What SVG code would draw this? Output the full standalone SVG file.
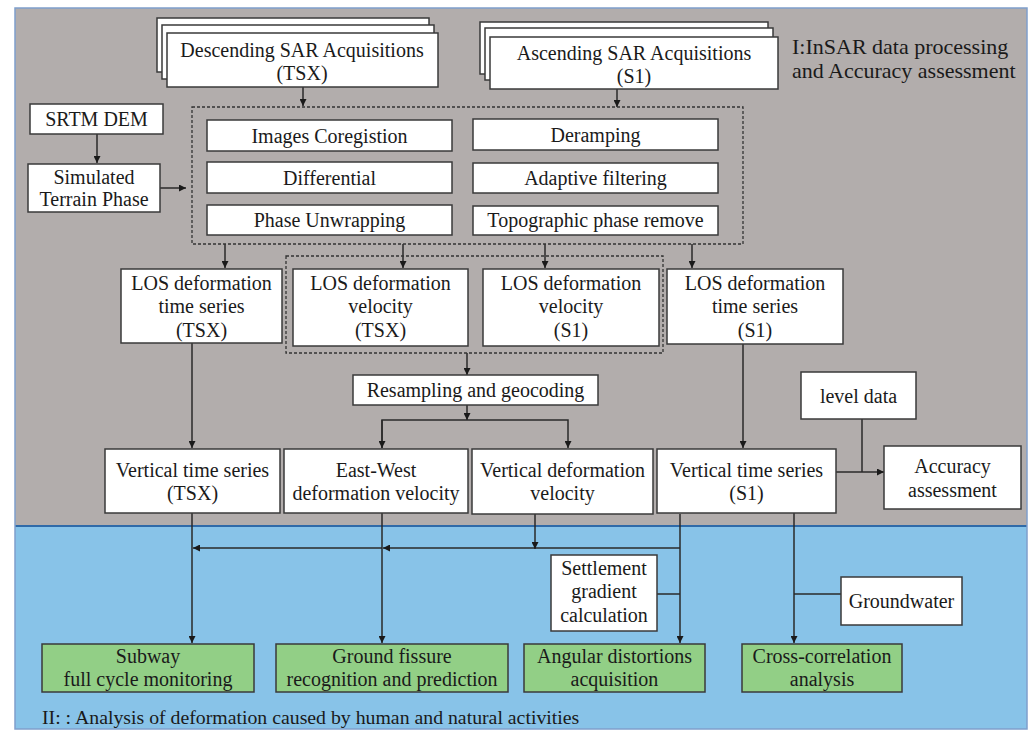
<svg xmlns="http://www.w3.org/2000/svg" width="1030" height="731" viewBox="0 0 1030 731">
<defs>
<style>
.bx{fill:#fff;stroke:#3a3a3a;stroke-width:1.5}
.gr{fill:#92cf86;stroke:#3a3a3a;stroke-width:1.5}
.ds{fill:none;stroke:#333;stroke-width:1.3;stroke-dasharray:3 2}
.t{font-family:"Liberation Serif","Times New Roman",serif;font-size:20px;fill:#1a1a1a;text-anchor:middle}
.tl{font-family:"Liberation Serif","Times New Roman",serif;fill:#1a1a1a}
.c{fill:none;stroke:#2a2a2a;stroke-width:1.5}
</style>
<marker id="ar" viewBox="0 0 10 10" refX="10" refY="5" markerWidth="7" markerHeight="7" markerUnits="userSpaceOnUse" orient="auto">
<path d="M0,0 L10,5 L0,10 z" fill="#1a1a1a"/>
</marker>
</defs>
<rect x="0" y="0" width="1030" height="731" fill="#fff"/>
<rect x="15" y="8" width="1012" height="518" fill="#b2adac"/>
<rect x="15" y="526" width="1012" height="203" fill="#88c3e8"/>
<line x1="15" y1="526" x2="1027" y2="526" stroke="#2f6aa8" stroke-width="2"/>
<rect x="15" y="8" width="1012" height="721" fill="none" stroke="#7f9fcc" stroke-width="1.5"/>

<text class="tl" x="792" y="54" font-size="22">I:InSAR data processing</text>
<text class="tl" x="792" y="78" font-size="22">and Accuracy assessment</text>
<text class="tl" x="42" y="724" font-size="19.8">II: : Analysis of deformation caused by human and natural activities</text>

<g id="connectors">
<path class="c" d="M303,87 V106" marker-end="url(#ar)"/>
<path class="c" d="M617,89 V107" marker-end="url(#ar)"/>
<path class="c" d="M97,134 V163" marker-end="url(#ar)"/>
<path class="c" d="M160,188 H186" marker-end="url(#ar)"/>
<path class="c" d="M225,244 V268" marker-end="url(#ar)"/>
<path class="c" d="M403,244 V268" marker-end="url(#ar)"/>
<path class="c" d="M545,244 V268" marker-end="url(#ar)"/>
<path class="c" d="M692,244 V268" marker-end="url(#ar)"/>
<path class="c" d="M467,353 V375" marker-end="url(#ar)"/>
<path class="c" d="M467,405 V420" marker-end="url(#ar)"/>
<path class="c" d="M382,448 V420 H568 V448" marker-end="url(#ar)"/>
<path class="c" d="M382,420 V448" marker-end="url(#ar)"/>
<path class="c" d="M192,343 V448" marker-end="url(#ar)"/>
<path class="c" d="M743,344 V448" marker-end="url(#ar)"/>
<path class="c" d="M836,472 H884" marker-end="url(#ar)"/>
<path class="c" d="M862,419 V472"/>
<path class="c" d="M192,513 V643" marker-end="url(#ar)"/>
<path class="c" d="M382,513 V643" marker-end="url(#ar)"/>
<path class="c" d="M680,548 H383" marker-end="url(#ar)"/>
<path class="c" d="M382,548 H193" marker-end="url(#ar)"/>
<path class="c" d="M535,514 V549" marker-end="url(#ar)"/>
<path class="c" d="M680,514 V643" marker-end="url(#ar)"/>
<path class="c" d="M794,513 V643" marker-end="url(#ar)"/>
<path class="c" d="M657,594 H680"/>
<path class="c" d="M841,594 H794"/>
</g>

<g id="desc">
<rect class="bx" x="157" y="18" width="272" height="54"/>
<rect class="bx" x="162" y="25" width="272" height="54"/>
<rect class="bx" x="167" y="33" width="271" height="54"/>
<text class="t" x="302" y="57">Descending SAR Acquisitions</text>
<text class="t" x="302" y="80">(TSX)</text>
</g>
<g id="asc">
<rect class="bx" x="480" y="22" width="288" height="52"/>
<rect class="bx" x="485" y="28" width="288" height="52"/>
<rect class="bx" x="490" y="37" width="288" height="52"/>
<text class="t" x="634" y="60">Ascending SAR Acquisitions</text>
<text class="t" x="634" y="83">(S1)</text>
</g>
<g id="srtm">
<rect class="bx" x="30" y="104" width="133" height="30"/>
<text class="t" x="96.5" y="126">SRTM DEM</text>
</g>
<g id="simulated">
<rect class="bx" x="28" y="164" width="132" height="48"/>
<text class="t" x="94" y="184">Simulated</text>
<text class="t" x="94" y="206">Terrain Phase</text>
</g>
<g id="processing">
<rect class="ds" x="192" y="107" width="551" height="137"/>
</g>
<g id="coreg"><rect class="bx" x="207" y="120" width="245" height="31"/><text class="t" x="329.5" y="143">Images Coregistion</text></g>
<g id="diff"><rect class="bx" x="207" y="162" width="245" height="31"/><text class="t" x="329.5" y="185">Differential</text></g>
<g id="unwrap"><rect class="bx" x="207" y="205" width="245" height="30"/><text class="t" x="329.5" y="227">Phase Unwrapping</text></g>
<g id="deramp"><rect class="bx" x="473" y="119" width="245" height="31"/><text class="t" x="595.5" y="142">Deramping</text></g>
<g id="filter"><rect class="bx" x="473" y="163" width="245" height="30"/><text class="t" x="595.5" y="185">Adaptive filtering</text></g>
<g id="topo"><rect class="bx" x="473" y="206" width="245" height="29"/><text class="t" x="595.5" y="227">Topographic phase remove</text></g>

<g id="velgroup"><rect class="ds" x="286" y="256" width="377" height="97"/></g>
<g id="los-ts-tsx">
<rect class="bx" x="121" y="269" width="161" height="74"/>
<text class="t" x="201.5" y="290">LOS deformation</text>
<text class="t" x="201.5" y="313">time series</text>
<text class="t" x="201.5" y="337">(TSX)</text>
</g>
<g id="los-vel-tsx">
<rect class="bx" x="293" y="269" width="175" height="77"/>
<text class="t" x="380.5" y="290">LOS deformation</text>
<text class="t" x="380.5" y="313">velocity</text>
<text class="t" x="380.5" y="337">(TSX)</text>
</g>
<g id="los-vel-s1">
<rect class="bx" x="483" y="269" width="176" height="77"/>
<text class="t" x="571" y="290">LOS deformation</text>
<text class="t" x="571" y="313">velocity</text>
<text class="t" x="571" y="337">(S1)</text>
</g>
<g id="los-ts-s1">
<rect class="bx" x="667" y="269" width="176" height="75"/>
<text class="t" x="755" y="290">LOS deformation</text>
<text class="t" x="755" y="313">time series</text>
<text class="t" x="755" y="337">(S1)</text>
</g>
<g id="resamp">
<rect class="bx" x="353" y="375" width="245" height="30"/>
<text class="t" x="475.5" y="397">Resampling and geocoding</text>
</g>
<g id="level">
<rect class="bx" x="801" y="372" width="115" height="47"/>
<text class="t" x="858.5" y="403">level data</text>
</g>
<g id="vts-tsx">
<rect class="bx" x="105" y="449" width="175" height="64"/>
<text class="t" x="192.5" y="477">Vertical time series</text>
<text class="t" x="192.5" y="500">(TSX)</text>
</g>
<g id="ew">
<rect class="bx" x="284" y="449" width="184" height="64"/>
<text class="t" x="376" y="477">East-West</text>
<text class="t" x="376" y="500">deformation velocity</text>
</g>
<g id="vdv">
<rect class="bx" x="472" y="449" width="181" height="65"/>
<text class="t" x="562.5" y="477">Vertical deformation</text>
<text class="t" x="562.5" y="500">velocity</text>
</g>
<g id="vts-s1">
<rect class="bx" x="657" y="449" width="179" height="64"/>
<text class="t" x="746.5" y="477">Vertical time series</text>
<text class="t" x="746.5" y="500">(S1)</text>
</g>
<g id="accuracy">
<rect class="bx" x="884" y="446" width="137" height="63"/>
<text class="t" x="952.5" y="473">Accuracy</text>
<text class="t" x="952.5" y="497">assessment</text>
</g>
<g id="settlement">
<rect class="bx" x="551" y="555" width="106" height="76"/>
<text class="t" x="604" y="575">Settlement</text>
<text class="t" x="604" y="598">gradient</text>
<text class="t" x="604" y="622">calculation</text>
</g>
<g id="groundwater">
<rect class="bx" x="841" y="577" width="121" height="48"/>
<text class="t" x="901.5" y="608">Groundwater</text>
</g>
<g id="subway">
<rect class="gr" x="42" y="644" width="212" height="48"/>
<text class="t" x="148" y="663">Subway</text>
<text class="t" x="148" y="686">full cycle monitoring</text>
</g>
<g id="fissure">
<rect class="gr" x="276" y="644" width="232" height="48"/>
<text class="t" x="392" y="663">Ground fissure</text>
<text class="t" x="392" y="686">recognition and prediction</text>
</g>
<g id="angular">
<rect class="gr" x="524" y="644" width="181" height="48"/>
<text class="t" x="614.5" y="663">Angular distortions</text>
<text class="t" x="614.5" y="686">acquisition</text>
</g>
<g id="crosscorr">
<rect class="gr" x="742" y="644" width="160" height="48"/>
<text class="t" x="822" y="663">Cross-correlation</text>
<text class="t" x="822" y="686">analysis</text>
</g>
</svg>
